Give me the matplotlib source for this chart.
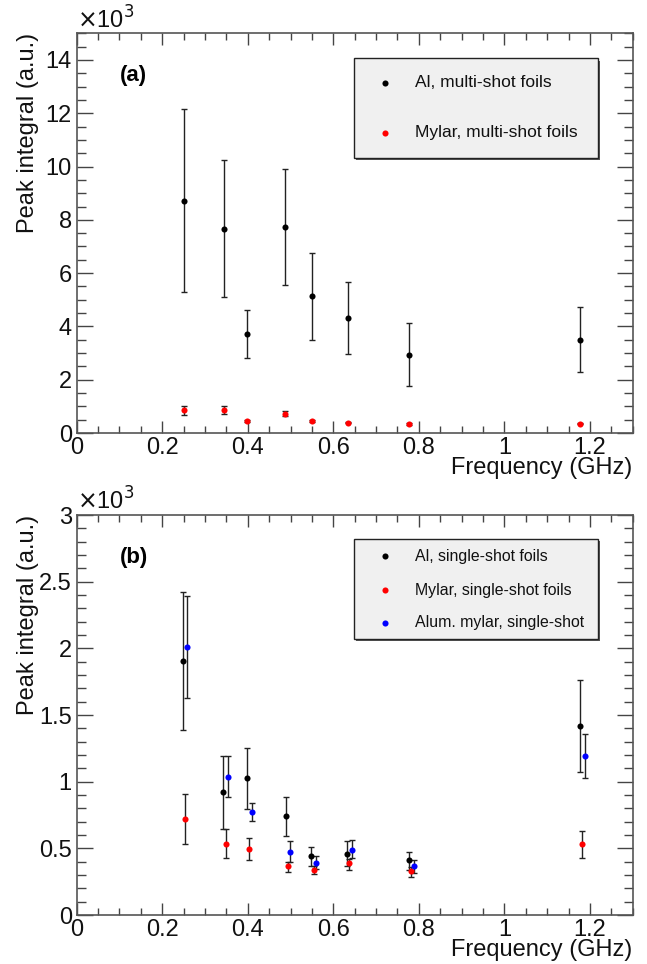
import matplotlib
matplotlib.use("Agg")
import matplotlib.pyplot as plt
from matplotlib.ticker import MultipleLocator
from matplotlib.patches import Rectangle

plt.rcParams['font.family'] = ['Liberation Sans', 'DejaVu Sans']

# ---- Panel (a): multi-shot foils (values in units of 10^3) ----
a_al_x = [0.250, 0.344, 0.399, 0.488, 0.549, 0.634, 0.777, 1.176]
a_al_y = [8.71, 7.66, 3.71, 7.74, 5.14, 4.31, 2.93, 3.50]
a_al_lo = [5.31, 5.10, 2.81, 5.56, 3.50, 2.96, 1.75, 2.30]
a_al_hi = [12.15, 10.25, 4.60, 9.89, 6.76, 5.66, 4.11, 4.71]

a_my_x = [0.250, 0.344, 0.399, 0.488, 0.549, 0.634, 0.777, 1.176]
a_my_y = [0.85, 0.87, 0.46, 0.72, 0.45, 0.39, 0.33, 0.35]
a_my_lo = [0.69, 0.72, 0.43, 0.62, 0.42, 0.36, 0.30, 0.32]
a_my_hi = [1.00, 1.02, 0.49, 0.82, 0.48, 0.42, 0.36, 0.38]

# ---- Panel (b): single-shot foils (values in units of 10^3) ----
b_al_x = [0.248, 0.343, 0.398, 0.489, 0.548, 0.632, 0.777, 1.177]
b_al_y = [1.908, 0.920, 1.025, 0.743, 0.439, 0.459, 0.409, 1.416]
b_al_lo = [1.387, 0.643, 0.798, 0.596, 0.364, 0.364, 0.339, 1.072]
b_al_hi = [2.426, 1.195, 1.254, 0.888, 0.511, 0.554, 0.476, 1.766]

b_my_x = [0.253, 0.348, 0.403, 0.493, 0.554, 0.637, 0.782, 1.182]
b_my_y = [0.721, 0.534, 0.494, 0.364, 0.339, 0.387, 0.332, 0.531]
b_my_lo = [0.531, 0.426, 0.411, 0.324, 0.307, 0.334, 0.282, 0.431]
b_my_hi = [0.910, 0.643, 0.574, 0.394, 0.364, 0.421, 0.359, 0.631]

b_am_x = [0.258, 0.353, 0.409, 0.499, 0.560, 0.643, 0.788, 1.188]
b_am_y = [2.010, 1.037, 0.773, 0.474, 0.389, 0.489, 0.364, 1.192]
b_am_lo = [1.631, 0.888, 0.706, 0.399, 0.344, 0.426, 0.314, 1.030]
b_am_hi = [2.391, 1.190, 0.838, 0.556, 0.439, 0.561, 0.411, 1.354]

a_labels = ["Al, multi-shot foils", "Mylar, multi-shot foils"]
b_labels = ["Al, single-shot foils", "Mylar, single-shot foils", "Alum. mylar, single-shot"]
colors = ["black", "#ff0000", "#0000ff"]

W, H = 647, 964
fig = plt.figure(figsize=(W / 100, H / 100), dpi=100)

def px_axes(l, t, r, b):
    return fig.add_axes([l / W, 1 - b / H, (r - l) / W, (b - t) / H])

axa = px_axes(76.7, 33.3, 632.7, 433)
axb = px_axes(76.7, 515, 632.7, 915)

def draw_series(ax, x, y, lo, hi, color):
    yerr = [[yi - l for yi, l in zip(y, lo)], [h - yi for yi, h in zip(y, hi)]]
    ax.errorbar(x, y, yerr=yerr, fmt='none', ecolor='#222222', elinewidth=1.0,
                capsize=2.2, capthick=1.0, zorder=2)
    ax.plot(x, y, 'o', color=color, markersize=4.4, markeredgewidth=0, zorder=3)

def style(ax, ymax, ymaj, ymin, tag, tag_y, top_px, bottom_px):
    ax.set_xlim(0, 1.3)
    ax.set_ylim(0, ymax)
    ax.xaxis.set_major_locator(MultipleLocator(0.2))
    ax.xaxis.set_minor_locator(MultipleLocator(0.05))
    ax.yaxis.set_major_locator(MultipleLocator(ymaj))
    ax.yaxis.set_minor_locator(MultipleLocator(ymin))
    ax.xaxis.set_major_formatter(plt.FuncFormatter(lambda v, p: ('%g' % round(v, 3))))
    ax.yaxis.set_major_formatter(plt.FuncFormatter(lambda v, p: ('%g' % round(v, 3))))
    for s in ax.spines.values():
        s.set_color('#555555')
        s.set_linewidth(1.2)
    ax.tick_params(axis='both', which='both', direction='in', top=True, right=True,
                   colors='#444444', labelcolor='#111111', labelsize=17)
    ax.tick_params(axis='y', which='major', length=11.5, width=1.0, pad=3.5)
    ax.tick_params(axis='y', which='minor', length=6.5, width=1.0)
    ax.tick_params(axis='x', which='major', length=8.6, width=1.0, pad=3)
    ax.tick_params(axis='x', which='minor', length=5, width=1.0)
    fig.text(632.7 / W, 1 - (bottom_px + 41) / H, "Frequency (GHz)", fontsize=17,
             ha='right', va='baseline', color='#111111')
    fig.text(28 / W, 1 - top_px / H, "Peak integral (a.u.)", fontsize=17,
             rotation=90, ha='center', va='top', color='#111111')
    ax.text(0.0, 1.0, r"$\times$10$^{3}$", transform=ax.transAxes, fontsize=17,
            ha='left', va='bottom', color='#111111')
    ax.text(0.133, tag_y, tag, fontsize=16, fontweight='bold', ha='center', va='center')

def legend(ax, labels, cols, y0, y1, rows, fs):
    ax.add_patch(Rectangle((0.5017, y0 - 0.006), 0.4386, y1 - y0, transform=ax.transAxes,
                           facecolor='#555555', edgecolor='none', zorder=4))
    ax.add_patch(Rectangle((0.4987, y0), 0.4389, y1 - y0, transform=ax.transAxes,
                           facecolor='#f0f0f0', edgecolor='#222222', linewidth=1.0, zorder=5))
    for lab, c, ry in zip(labels, cols, rows):
        ax.plot([0.5545], [ry], 'o', color=c, markersize=4.4, markeredgewidth=0,
                transform=ax.transAxes, zorder=6)
        ax.text(0.6085, ry, lab, fontsize=fs, ha='left', va='center',
                transform=ax.transAxes, zorder=6, color='#111111')

draw_series(axa, a_al_x, a_al_y, a_al_lo, a_al_hi, colors[0])
draw_series(axa, a_my_x, a_my_y, a_my_lo, a_my_hi, colors[1])
style(axa, 15, 2, 0.5, "(a)", 13.4, 33.3, 433)
legend(axa, a_labels, colors[:2], 0.688, 0.9375, [0.8757, 0.7506], 12.5)

draw_series(axb, b_al_x, b_al_y, b_al_lo, b_al_hi, colors[0])
draw_series(axb, b_my_x, b_my_y, b_my_lo, b_my_hi, colors[1])
draw_series(axb, b_am_x, b_am_y, b_am_lo, b_am_hi, colors[2])
style(axb, 3, 0.5, 0.1, "(b)", 2.68, 515, 915)
legend(axb, b_labels, colors, 0.69, 0.94, [0.8975, 0.8125, 0.73], 11.4)

fig.savefig("out.png", dpi=100)
